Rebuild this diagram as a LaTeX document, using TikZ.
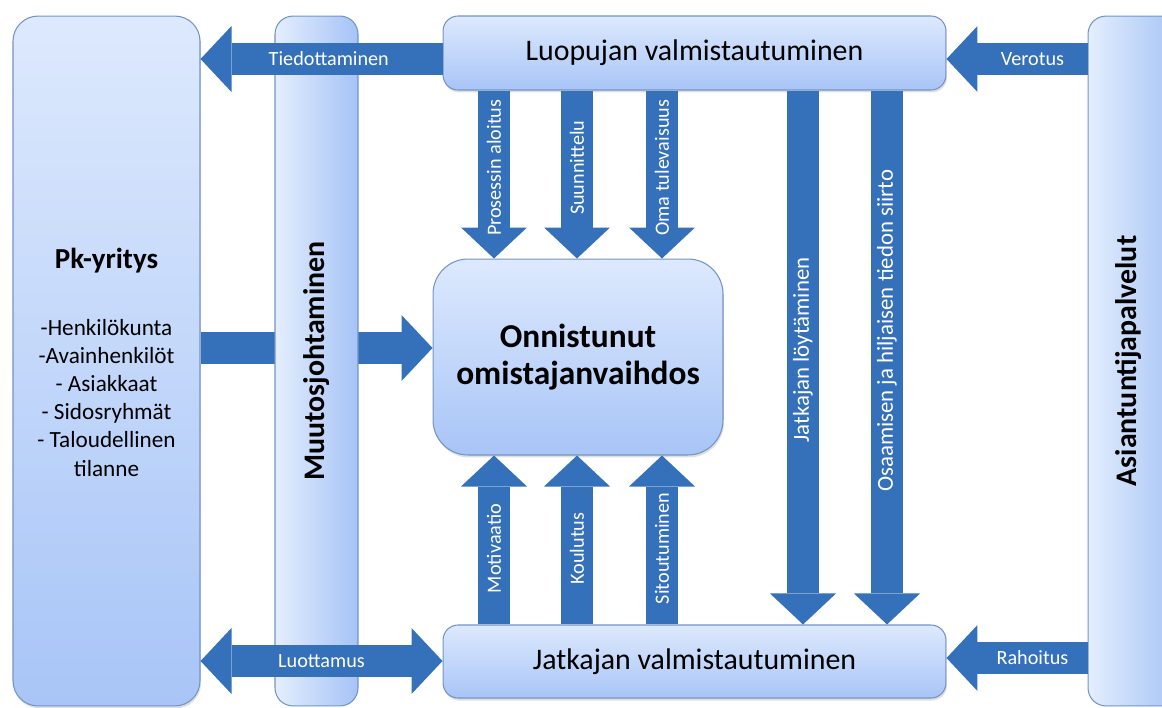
\documentclass[tikz,border=0pt]{standalone}
\usepackage{fontspec}
\setmainfont{Carlito}
\usetikzlibrary{arrows.meta,shadows}
\definecolor{boxtop}{HTML}{DDE9FD}
\definecolor{boxbot}{HTML}{A8C5F7}
\definecolor{barleft}{HTML}{E4EEFD}
\definecolor{barright}{HTML}{A5C3F6}
\definecolor{boxline}{HTML}{7394C6}
\definecolor{arrowblue}{HTML}{3570BA}
\tikzset{
    box/.style={draw=boxline, line width=0.6pt, rounded corners=0.3cm, top color=boxtop, bottom color=boxbot,
        drop shadow={opacity=0.25, shadow xshift=0.02cm, shadow yshift=-0.05cm}},
    bar/.style={draw=boxline, line width=0.6pt, rounded corners=0.36cm, left color=barleft, right color=barright},
    fat/.style={draw=arrowblue, line width=0.64cm, -{Triangle[width=1.32cm, length=0.62cm, line width=0pt]}},
    fatboth/.style={draw=arrowblue, line width=0.64cm,
        {Triangle[width=1.32cm, length=0.62cm, line width=0pt]}-{Triangle[width=1.32cm, length=0.62cm, line width=0pt]}},
    lbl/.style={text=white, inner sep=0pt, font=\fontsize{11.5}{13}\selectfont},
    biglbl/.style={text=white, inner sep=0pt, font=\fontsize{13}{15}\selectfont},
    title/.style={inner sep=0pt, font=\fontsize{17}{20}\selectfont},
}
\begin{document}
\begin{tikzpicture}[x=0.02cm, y=-0.02cm]
    \useasboundingbox (0,0) rectangle (1162,707);
    \clip (0,0) rectangle (1162,707);
    % boxes
    \node[box, rounded corners=0.5cm, minimum width=3.74cm, minimum height=13.8cm] (pk) at (106.5,361) {};
    \node[inner sep=0pt, anchor=base, font=\fontsize{16.5}{20}\bfseries\selectfont] (pkname) at (106.5,268) {Pk-yritys};
    \node[inner sep=0pt, anchor=north, align=center, font=\fontsize{13.2}{16}\selectfont] (pklist) at (106.5,319)
        {-Henkilökunta\\-Avainhenkilöt\\- Asiakkaat\\- Sidosryhmät\\- Taloudellinen\\tilanne};
    \node[box, rounded corners=0.7cm, minimum width=5.8cm, minimum height=3.92cm, align=center,
        font=\fontsize{19}{21}\bfseries\selectfont] (goal) at (578,357) {Onnistunut\\omistajanvaihdos};
    \draw[fat] (pk.east |- 0,348) -- (goal.west |- 0,348);
    \node[bar, minimum width=1.66cm, minimum height=13.8cm] (muutos) at (316.5,361) {};
    \node[rotate=90, inner sep=0pt, font=\fontsize{17}{20}\bfseries\selectfont] (muutoslbl) at (316.5,361) {Muutosjohtaminen};
    \node[box, minimum width=10.06cm, minimum height=1.48cm, title] (luop) at (694.5,53) {Luopujan valmistautuminen};
    \node[box, minimum width=10.06cm, minimum height=1.46cm, title] (jatk) at (694.5,661.5) {Jatkajan valmistautuminen};
    \node[bar, minimum width=1.84cm, minimum height=13.8cm] (asi) at (1134,361) {};
    \node[rotate=90, inner sep=0pt, font=\fontsize{17}{20}\bfseries\selectfont] (asilbl) at (1129,361) {Asiantuntijapalvelut};
    % arrows
    \foreach \x/\t in {494/Prosessin aloitus, 577/Suunnittelu, 662/Oma tulevaisuus}
        \draw[fat] (luop.south -| \x,0) -- node[lbl, rotate=90, pos=0.46] {\t} (goal.north -| \x,0);
    \foreach \x/\t in {494/Motivaatio, 577/Koulutus, 662/Sitoutuminen}
        \draw[fat] (jatk.north -| \x,0) -- node[lbl, rotate=90, pos=0.45] {\t} (goal.south -| \x,0);
    \draw[fat] (luop.south -| 803,0) -- node[biglbl, rotate=90, pos=0.486] {Jatkajan löytäminen} (jatk.north -| 803,0);
    \draw[fat] (luop.south -| 887,0) -- node[biglbl, rotate=90, pos=0.45] {Osaamisen ja hiljaisen tiedon siirto} (jatk.north -| 887,0);
    \draw[fat] (luop.west |- 0,59) -- node[lbl, pos=0.47] {Tiedottaminen} (pk.east |- 0,59);
    \draw[fat] (asi.west |- 0,59) -- node[lbl, pos=0.39] {Verotus} (luop.east |- 0,59);
    \draw[fat] (asi.west |- 0,658) -- node[lbl, pos=0.39] {Rahoitus} (jatk.east |- 0,658);
    \draw[fatboth] (pk.east |- 0,661) -- node[lbl] {Luottamus} (jatk.west |- 0,661);
\end{tikzpicture}
\end{document}
